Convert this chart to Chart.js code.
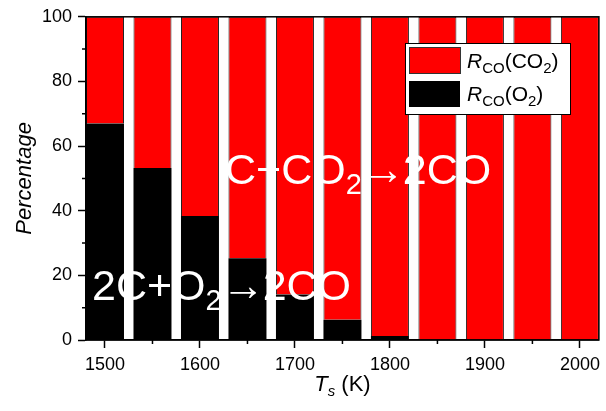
<!DOCTYPE html>
<html>
<head>
<meta charset="utf-8">
<script src="https://cdn.jsdelivr.net/npm/chart.js@4"></script>
<style>
  html, body { margin: 0; padding: 0; background: #fff; }
  #box { width: 606px; height: 411px; }
</style>
</head>
<body>
<div id="box"><canvas id="grafico"></canvas></div>
<script>
const temps = [1500, 1550, 1600, 1650, 1700, 1750, 1800, 1850, 1900, 1950, 2000];
const rcoO2 = [67, 53.2, 38.4, 25.3, 14.1, 6.3, 1.2, 0, 0, 0, 0];
const rcoCO2 = [33, 46.8, 61.6, 74.7, 85.9, 93.7, 98.8, 100, 100, 100, 100];
const minorX = [1550, 1650, 1750, 1850, 1950];
const minorY = [10, 30, 50, 70, 90];

const FONT = "'Liberation Sans', Arial, sans-serif";

// draws text made of pieces (italic, subscript)
function richText(c, x, y, parts, measureOnly) {
  let cx = x;
  parts.forEach((p) => {
    c.font = (p.italic ? "italic " : "") + p.size + "px " + FONT;
    if (!measureOnly) c.fillText(p.t, cx, y + (p.dy || 0));
    cx += c.measureText(p.t).width + (p.gap || 0);
  });
  return cx - x;
}

const extras = {
  id: "extras",
  afterDraw(chart) {
    const c = chart.ctx;
    const a = chart.chartArea;
    const xs = chart.scales.x;
    const ys = chart.scales.y;
    c.save();

    // frame
    c.strokeStyle = "#000";
    c.lineWidth = 1.5;
    c.strokeRect(a.left, a.top, a.right - a.left, a.bottom - a.top);

    // minor ticks
    c.beginPath();
    minorX.forEach((v) => {
      const px = xs.getPixelForValue(v);
      c.moveTo(px, a.bottom);
      c.lineTo(px, a.bottom + 4);
    });
    minorY.forEach((v) => {
      const py = ys.getPixelForValue(v);
      c.moveTo(a.left, py);
      c.lineTo(a.left - 4, py);
    });
    c.stroke();

    // reaction labels
    c.fillStyle = "#fff";
    c.textBaseline = "alphabetic";
    richText(c, 225, 184, [
      { t: "C+CO", size: 43 },
      { t: "2", size: 29, dy: 10 },
      { t: "\u2192", size: 43, gap: -2 },
      { t: "2CO", size: 43 },
    ]);
    richText(c, 92, 300, [
      { t: "2C+O", size: 43 },
      { t: "2", size: 29, dy: 10 },
      { t: "\u2192", size: 43, gap: -2 },
      { t: "2CO", size: 43 },
    ]);

    // legend
    const lx = 405, ly = 43;
    c.fillStyle = "#fff";
    c.fillRect(lx, ly, 165, 71);
    c.strokeStyle = "#000";
    c.lineWidth = 1;
    c.strokeRect(lx + 0.5, ly + 0.5, 165, 71);
    c.fillStyle = "#ff0000";
    c.fillRect(lx + 4, ly + 4, 51, 26);
    c.strokeStyle = "#333";
    c.strokeRect(lx + 4.5, ly + 4.5, 51, 26);
    c.fillStyle = "#000";
    c.fillRect(lx + 4, ly + 38, 51, 26);
    richText(c, lx + 62, ly + 25, [
      { t: "R", size: 21, italic: true },
      { t: "CO", size: 15, dy: 5 },
      { t: "(CO", size: 21 },
      { t: "2", size: 15, dy: 5 },
      { t: ")", size: 21 },
    ]);
    richText(c, lx + 62, ly + 58, [
      { t: "R", size: 21, italic: true },
      { t: "CO", size: 15, dy: 5 },
      { t: "(O", size: 21 },
      { t: "2", size: 15, dy: 5 },
      { t: ")", size: 21 },
    ]);

    // x title
    const xt = [
      { t: "T", size: 22, italic: true },
      { t: "s", size: 15, italic: true, dy: 5 },
      { t: " (K)", size: 22 },
    ];
    const w = richText(c, 0, 0, xt, true);
    richText(c, (a.left + a.right) / 2 - w / 2, 391, xt);

    c.restore();
  },
};

new Chart(document.getElementById("grafico"), {
  type: "bar",
  data: {
    datasets: [
      {
        label: "RCO(O2)",
        data: temps.map((t, i) => ({ x: t, y: rcoO2[i] })),
        backgroundColor: "#000000",
        borderWidth: 0,
      },
      {
        label: "RCO(CO2)",
        data: temps.map((t, i) => ({ x: t, y: rcoCO2[i] })),
        backgroundColor: "#ff0000",
        borderColor: "#222",
        borderWidth: 1,
      },
    ],
  },
  options: {
    responsive: true,
    maintainAspectRatio: false,
    animation: false,
    barPercentage: 0.8,
    categoryPercentage: 1,
    layout: { padding: { top: 14, right: 2, left: 0, bottom: 0 } },
    plugins: {
      legend: { display: false },
      tooltip: { enabled: false },
    },
    scales: {
      x: {
        type: "linear",
        stacked: true,
        offset: false,
        min: 1480,
        max: 2020,
        afterFit: (s) => { s.height = 71; },
        grid: { offset: false, drawOnChartArea: false, tickLength: 8, tickColor: "#000", tickWidth: 1.5 },
        border: { color: "#000", width: 1.5 },
        ticks: {
          stepSize: 100,
          includeBounds: false,
          padding: 6,
          color: "#000",
          font: { family: FONT, size: 18 },
          callback: (v) => String(v),
        },
      },
      y: {
        stacked: true,
        min: 0,
        max: 100,
        afterFit: (s) => { s.width = 86; },
        grid: { drawOnChartArea: false, tickLength: 8, tickColor: "#000", tickWidth: 1.5 },
        border: { color: "#000", width: 1.5 },
        ticks: {
          stepSize: 20,
          padding: 6,
          color: "#000",
          font: { family: FONT, size: 18 },
        },
        title: {
          display: true,
          text: "Percentage",
          color: "#000",
          font: { family: FONT, size: 22, style: "italic" },
          padding: { top: 12 },
        },
      },
    },
  },
  plugins: [extras],
});
</script>
</body>
</html>
